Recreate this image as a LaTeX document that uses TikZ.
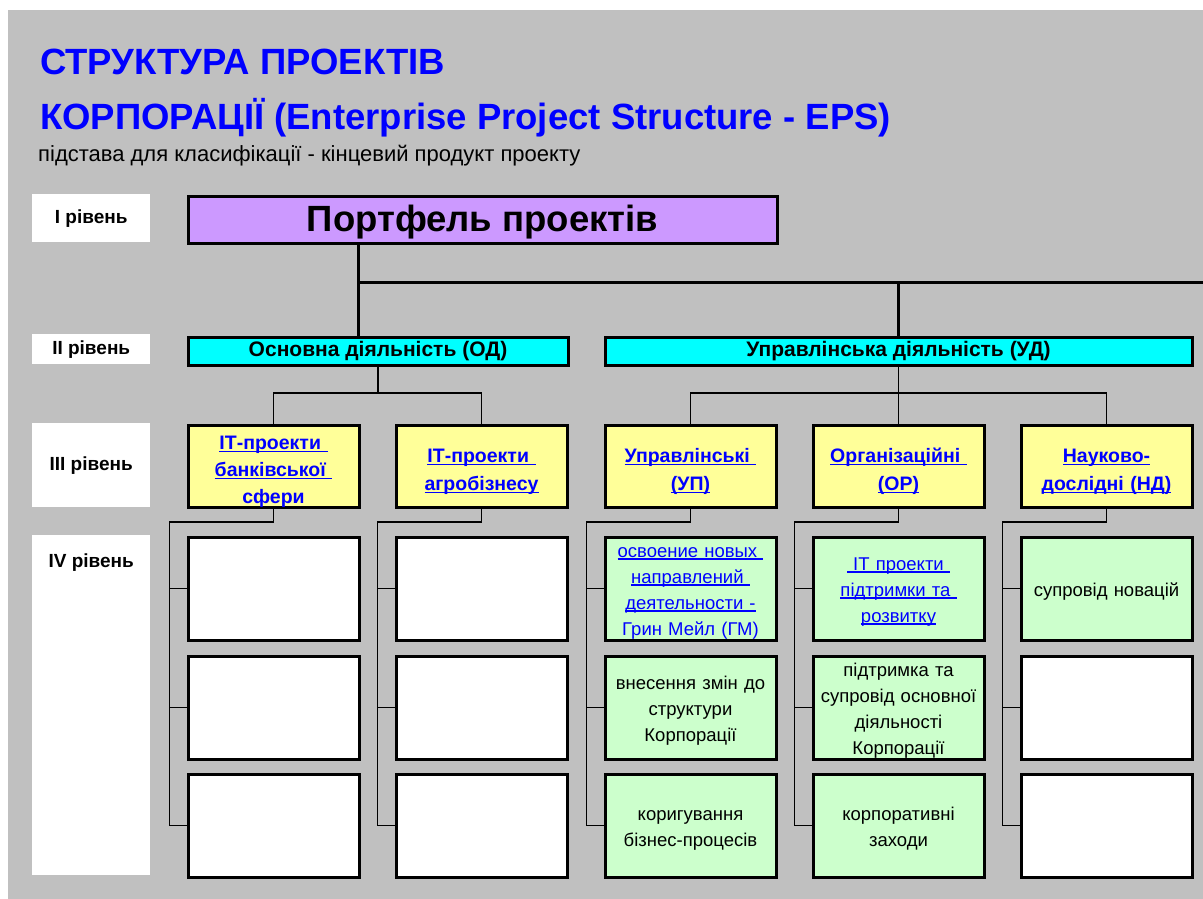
\documentclass[tikz,border=0pt]{standalone}
\usepackage{fontspec}
\setmainfont{Liberation Sans}
\usetikzlibrary{calc}
\newcommand{\mylnk}[1]{\leavevmode\setbox0\hbox{#1}\rlap{\rule[-2.6pt]{\wd0}{1.2pt}}\box0}
\newcommand{\topstrut}[1]{\rule{0pt}{#1}}
\definecolor{bggray}{HTML}{C0C0C0}
\definecolor{portfel}{HTML}{CC99FF}
\definecolor{cyanbox}{HTML}{00FFFF}
\definecolor{yellowbox}{HTML}{FFFF99}
\definecolor{greenbox}{HTML}{CCFFCC}
\definecolor{titleblue}{HTML}{0000FF}
\definecolor{linkblue}{HTML}{0000FF}
\tikzset{
  lvl/.style={fill=white, anchor=north west, inner sep=0pt, minimum width=118pt, text=black,
    font=\bfseries\fontsize{19}{21}\selectfont},
  bx/.style={draw=black, line width=3pt, anchor=north west, inner sep=0pt, align=center},
  lone/.style={bx, fill=portfel, minimum width=589pt, minimum height=47pt,
    font=\bfseries\fontsize{36.5}{40}\selectfont},
  ltwo/.style={bx, fill=cyanbox, minimum height=28pt, font=\bfseries\fontsize{21}{24}\selectfont},
  lthree/.style={bx, fill=yellowbox, minimum width=171pt, minimum height=82pt, text width=168pt,
    text=linkblue, font=\bfseries\fontsize{19.5}{27.5}\selectfont},
  lfour/.style={bx, minimum width=171pt, minimum height=103pt, text width=168pt,
    font=\fontsize{18.5}{26}\selectfont},
  lfe/.style={lfour, fill=white},
  lfg/.style={lfour, fill=greenbox},
  trunk/.style={line width=3pt},
  branch/.style={line width=1.7pt},
  ttl/.style={anchor=base west, inner sep=0pt, text=titleblue, font=\bfseries\fontsize{36.5}{40}\selectfont},
}
\begin{document}
\begin{tikzpicture}[x=1pt,y=-1pt]
\useasboundingbox (0,0) rectangle (1203,899);
\fill[white] (0,0) rectangle (1203,899);
\fill[bggray] (8,10) rectangle (1203,899);

% titles
\node[ttl] (t1) at (40,75) {СТРУКТУРА ПРОЕКТІВ};
\node[ttl] (t2) at (40,129) {КОРПОРАЦІЇ (Enterprise Project Structure - EPS)};
\node[anchor=base west, inner sep=0pt, font=\fontsize{22}{24}\selectfont] (t3) at (38,161)
  {підстава для класифікації - кінцевий продукт проекту};

% level labels
\node[lvl, minimum height=48pt] (lv1) at (32,194) {I рівень};
\node[lvl, minimum height=30pt] (lv2) at (32,334) {II рівень};
\node[lvl, minimum height=84pt] (lv3) at (32,423) {III рівень};
\node[lvl, minimum height=340pt] (lv4) at (32,535) {};
\node[font=\bfseries\fontsize{19}{21}\selectfont] (lv4t) at (lv4.north |- 0,563) {IV рівень};

% level I
\node[lone] (P) at (186.5,194.5) {\topstrut{31pt}Портфель проектів};

% level II
\node[ltwo, minimum width=380pt] (OD) at (186.5,335.5) {Основна діяльність (ОД)};
\node[ltwo, minimum width=587pt] (UD) at (603.5,335.5) {Управлінська діяльність (УД)};

% level III
\node[lthree, font=\bfseries\fontsize{19.5}{27}\selectfont] (A3) at (186.5,423.5)
  {\topstrut{21pt}\mylnk{ІТ-проекти\ }\\\mylnk{банківської\ }\\\raisebox{0pt}[\height][0pt]{сфери}};
\node[lthree] (B3) at (394.5,423.5) {\topstrut{25pt}\mylnk{ІТ-проекти\ }\\\mylnk{агробізнесу}};
\node[lthree] (C3) at (603.5,423.5) {\topstrut{25pt}\mylnk{Управлінські\ }\\\mylnk{(УП)}};
\node[lthree] (D3) at (811.5,423.5) {\topstrut{25pt}\mylnk{Організаційні\ }\\\mylnk{(ОР)}};
\node[lthree] (E3) at (1019.5,423.5) {\topstrut{25pt}\mylnk{Науково-}\\\mylnk{дослідні (НД)}};

% level IV
\node[lfe] (A4a) at (186.5,535.5) {};
\node[lfe] (A4b) at (186.5,654.5) {};
\node[lfe] (A4c) at (186.5,772.5) {};
\node[lfe] (B4a) at (394.5,535.5) {};
\node[lfe] (B4b) at (394.5,654.5) {};
\node[lfe] (B4c) at (394.5,772.5) {};
\node[lfg, text=linkblue] (C4a) at (603.5,535.5)
  {\topstrut{19pt}\mylnk{освоение новых\ }\\\mylnk{направлений\ }\\\mylnk{деятельности -}\\Грин Мейл (ГМ)};
\node[lfg] (C4b) at (603.5,654.5) {\topstrut{19pt}внесення змін до\\структури\\Корпорації};
\node[lfg] (C4c) at (603.5,772.5) {\topstrut{19pt}коригування\\бізнес-процесів};
\node[lfg, text=linkblue] (D4a) at (811.5,535.5)
  {\topstrut{19pt}\mylnk{\ ІТ проекти\ }\\\mylnk{підтримки та\ }\\\mylnk{розвитку}};
\node[lfg] (D4b) at (811.5,654.5) {\topstrut{19pt}підтримка та\\супровід основної\\діяльності\\Корпорації};
\node[lfg] (D4c) at (811.5,772.5) {\topstrut{19pt}корпоративні\\заходи};
\node[lfg] (E4a) at (1019.5,535.5) {\topstrut{19pt}супровід новацій};
\node[lfe] (E4b) at (1019.5,654.5) {};
\node[lfe] (E4c) at (1019.5,772.5) {};

% trunk connectors
\coordinate (j1) at (358,282);
\coordinate (jr) at (1203,282);
\draw[trunk] (P.south -| j1) -- (OD.north -| j1);
\draw[trunk] (j1) -- (jr);
\draw[trunk] (UD.north) -- (UD.north |- j1);

% level II -> III
\coordinate (bus2) at (0,393);
\draw[branch] (OD.south) -- (OD.south |- bus2);
\draw[branch] (A3.north) |- (B3.north |- bus2) -- (B3.north);
\draw[branch] (UD.south) -- (D3.north);
\draw[branch] (C3.north) |- (E3.north |- bus2) -- (E3.north);

% level III -> IV
\coordinate (bus4) at (0,522);
\foreach \c in {A,B,C,D,E}{
  \coordinate (\c-v) at ($(\c4a.west)+(-17,0)$);
  \draw[branch] (\c3.south) |- (\c-v |- bus4) -- (\c-v |- \c4c.west) -- (\c4c.west);
  \draw[branch] (\c-v |- \c4a.west) -- (\c4a.west);
  \draw[branch] (\c-v |- \c4b.west) -- (\c4b.west);
}
\end{tikzpicture}
\end{document}
